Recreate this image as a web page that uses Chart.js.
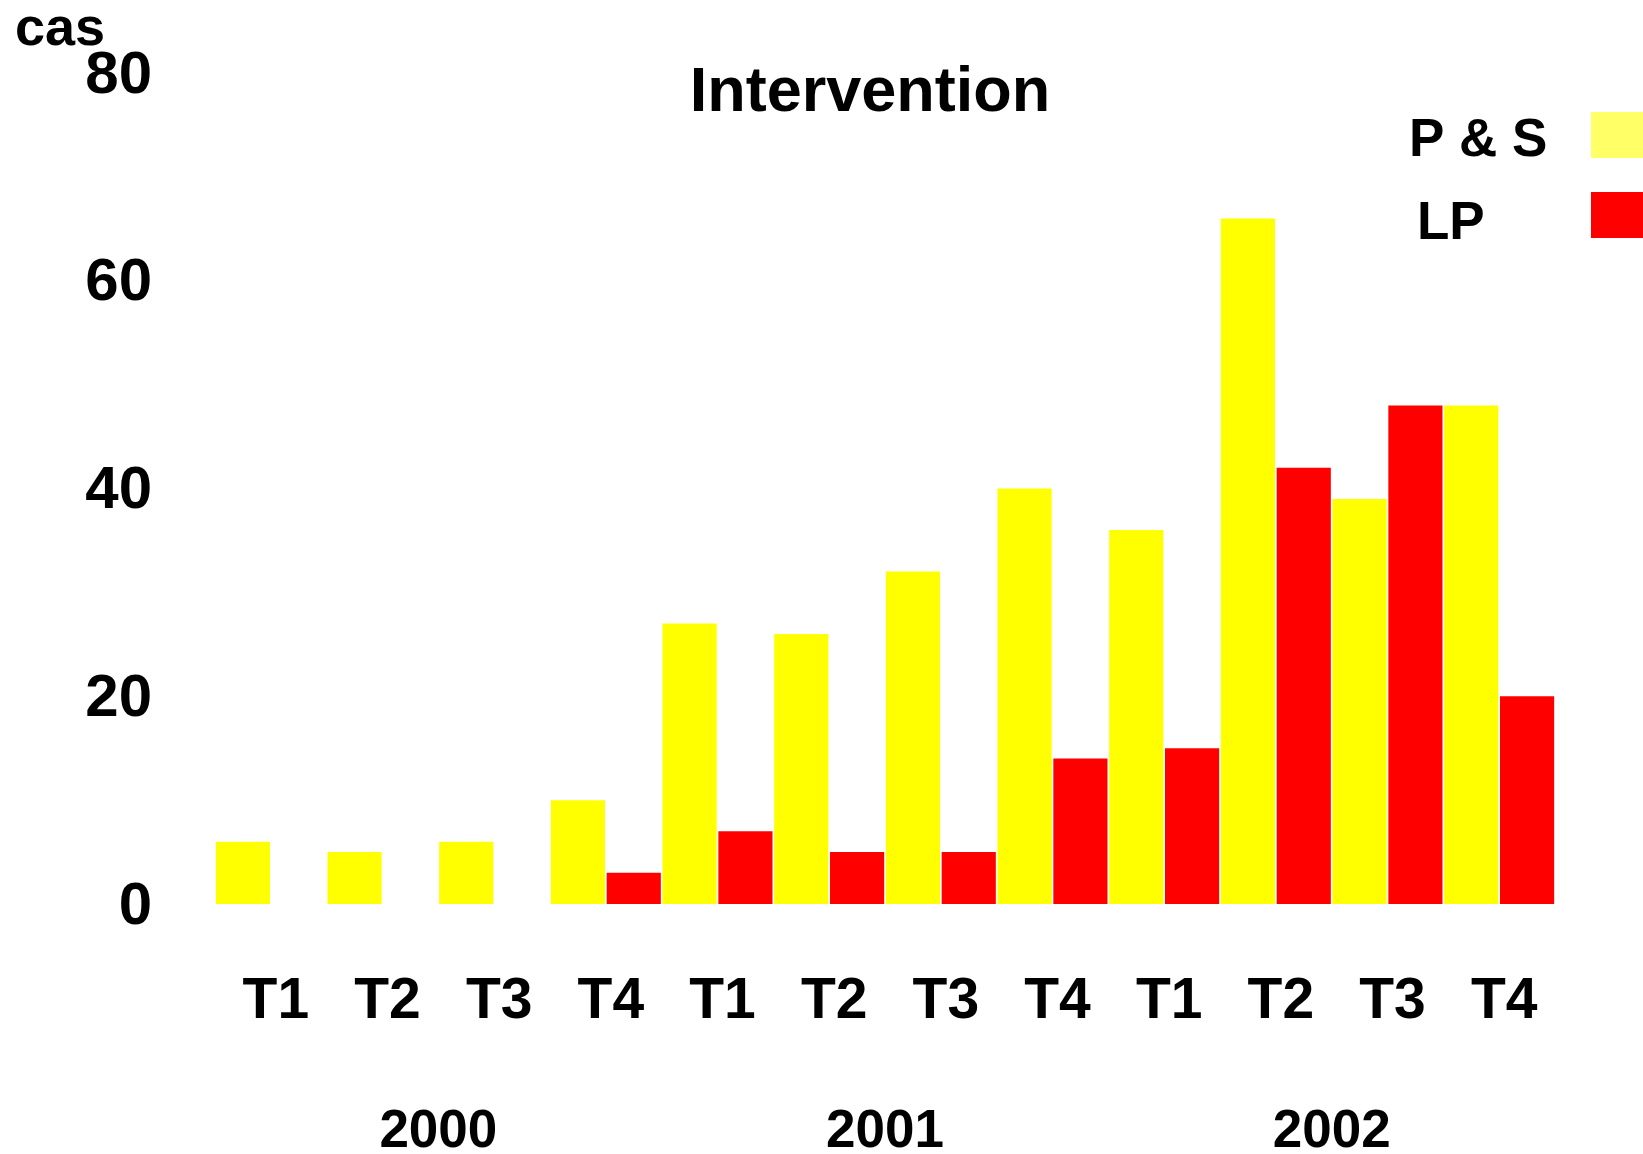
<!DOCTYPE html>
<html lang="fr">
<head>
  <meta charset="UTF-8">
  <title>Intervention</title>
  <script src="https://cdn.jsdelivr.net/npm/chart.js"></script>
  <style>
    body { margin: 0; background: #fff; }
    #chartContainer { width: 1643px; height: 1154px; position: relative; }
  </style>
</head>
<body>
<div id="chartContainer">
  <canvas id="interventionChart"></canvas>
</div>

<script>
// quarters and years
const quarters = ['T1', 'T2', 'T3', 'T4', 'T1', 'T2', 'T3', 'T4', 'T1', 'T2', 'T3', 'T4'];
const years = ['2000', '2001', '2002'];

// number of cases per quarter
const psValues = [6, 5, 6, 10, 27, 26, 32, 40, 36, 66, 39, 48];
const lpValues = [0, 0, 0, 3, 7, 5, 5, 14, 15, 42, 48, 20];

const yTicks = [0, 20, 40, 60, 80];

const FONT = "'Liberation Sans', Arial, sans-serif";
const legendSwatch = ['#FFFF66', '#FF0000'];

// title, "cas" label and legend are drawn by hand on top of the chart
const decorations = {
  id: 'decorations',
  afterDraw(chart) {
    const ctx = chart.ctx;
    ctx.save();
    ctx.fillStyle = '#000';
    ctx.textBaseline = 'alphabetic';

    ctx.font = 'bold 63px ' + FONT;
    ctx.textAlign = 'center';
    ctx.fillText('Intervention', 870, 111);

    ctx.font = 'bold 54px ' + FONT;
    ctx.textAlign = 'left';
    ctx.fillText('cas', 15, 45);

    // legend
    ctx.font = 'bold 53px ' + FONT;
    const rows = [
      { textX: 1409, base: 156, boxY: 112 },
      { textX: 1417, base: 239, boxY: 192 }
    ];
    chart.data.datasets.forEach((ds, i) => {
      const r = rows[i];
      ctx.fillStyle = '#000';
      ctx.fillText(ds.label, r.textX, r.base);
      ctx.fillStyle = legendSwatch[i];
      ctx.fillRect(1591, r.boxY, 60, 46);
    });
    ctx.restore();
  }
};

function noEdgePadding(scale) {
  scale.paddingTop = 0;
  scale.paddingBottom = 0;
  scale.paddingLeft = 0;
  scale.paddingRight = 0;
}

const ctx = document.getElementById('interventionChart').getContext('2d');
new Chart(ctx, {
  type: 'bar',
  data: {
    labels: quarters,
    datasets: [
      { label: 'P & S', data: psValues, backgroundColor: '#FFFF00', borderWidth: 0 },
      { label: 'LP', data: lpValues, backgroundColor: '#FF0000', borderWidth: 0 }
    ]
  },
  options: {
    responsive: true,
    maintainAspectRatio: false,
    animation: false,
    layout: { padding: { top: 73, right: 88, bottom: 0, left: 0 } },
    categoryPercentage: 1.0,
    barPercentage: 0.97,
    plugins: {
      legend: { display: false },
      title: { display: false },
      tooltip: { enabled: false }
    },
    scales: {
      x: {
        position: 'bottom',
        weight: 0,
        offset: true,
        grid: { display: false, drawTicks: false },
        border: { display: false },
        ticks: {
          color: '#000',
          padding: 64,
          labelOffset: 5,
          maxRotation: 0,
          autoSkip: false,
          font: { family: FONT, size: 57, weight: 'bold' }
        },
        afterFit(scale) { scale.height = 170; noEdgePadding(scale); }
      },
      x2: {
        type: 'category',
        position: 'bottom',
        weight: 1,
        labels: years,
        offset: true,
        grid: { display: false, drawTicks: false },
        border: { display: false },
        ticks: {
          color: '#000',
          padding: 27,
          maxRotation: 0,
          font: { family: FONT, size: 53, weight: 'bold' }
        },
        afterFit(scale) { scale.height = 80; noEdgePadding(scale); }
      },
      y: {
        min: 0,
        max: 80,
        grid: { display: false, drawTicks: false },
        border: { display: false },
        ticks: {
          color: '#000',
          padding: 63,
          labelOffset: 3,
          stepSize: 20,
          font: { family: FONT, size: 60, weight: 'bold' }
        },
        afterBuildTicks(scale) { scale.ticks = yTicks.map(v => ({ value: v })); },
        afterFit(scale) { scale.width = 215; noEdgePadding(scale); }
      }
    }
  },
  plugins: [decorations]
});
</script>
</body>
</html>
